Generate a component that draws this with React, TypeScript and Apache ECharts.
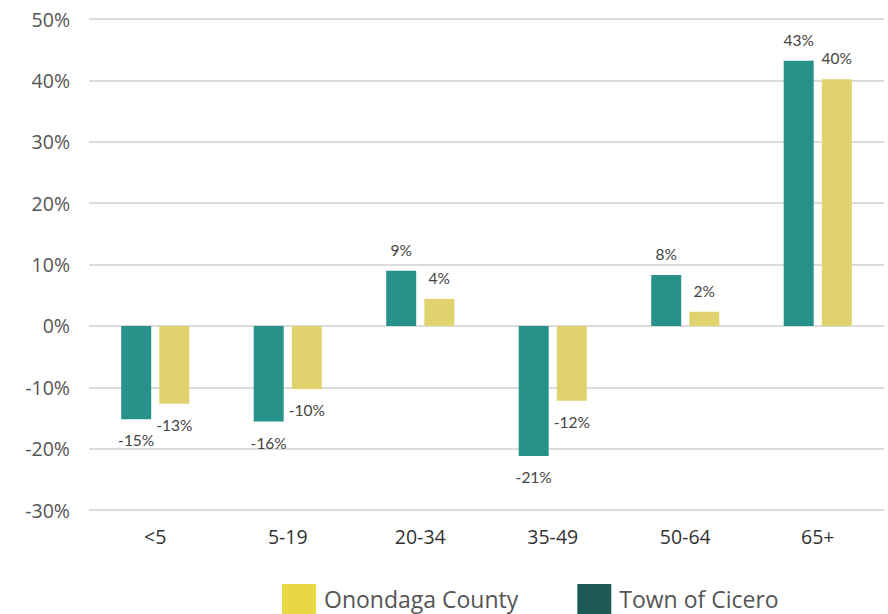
import React, { useEffect, useRef } from "react";
import * as echarts from "echarts";

const categories = ["<5", "5-19", "20-34", "35-49", "50-64", "65+"];
const cicero = [-15.2, -15.6, 9.0, -21.2, 8.3, 43.2];
const onondaga = [-12.7, -10.3, 4.4, -12.2, 2.3, 40.2];
const yTicks = [-30, -20, -10, 0, 10, 20, 30, 40, 50];

const labelFmt = (p: any) => `${Math.round(p.value)}%`;

function mk(values: number[]) {
  return values.map((v) => ({
    value: v,
    label: { position: v < 0 ? "bottom" : "top" },
  }));
}

export default function App() {
  const ref = useRef<HTMLDivElement>(null);
  useEffect(() => {
    const chart = echarts.init(ref.current!, null, { renderer: "svg" });
    const barLabel = {
      show: true,
      distance: 13,
      formatter: labelFmt,
      fontFamily: "Lato",
      fontSize: 15.5,
      color: "#444",
    };
    chart.setOption({
      animation: false,
      grid: { left: 89, right: 4, top: 19, bottom: 104 },
      legend: {
        top: 579,
        left: 277,
        itemWidth: 34,
        itemHeight: 30,
        itemGap: 59,
        icon: "rect",
        textStyle: {
          fontFamily: "Open Sans",
          fontSize: 23,
          lineHeight: 25,
          color: "#555",
          padding: [0, 0, 0, 3],
        },
        data: [
          { name: "Onondaga County", itemStyle: { color: "#e8d844" } },
          { name: "Town of Cicero", itemStyle: { color: "#1e5a55" } },
        ],
      },
      xAxis: {
        type: "category",
        data: categories,
        axisLine: { show: false },
        axisTick: { show: false },
        axisLabel: { margin: 16, fontFamily: "Open Sans", fontSize: 19.5, color: "#333" },
      },
      yAxis: {
        type: "value",
        min: -30,
        max: 50,
        interval: 10,
        axisLabel: {
          margin: 19,
          fontFamily: "Open Sans",
          fontSize: 19.5,
          color: "#555",
          formatter: (v: number) => (yTicks.includes(v) ? `${v}%` : ""),
        },
        splitLine: { lineStyle: { color: "#dcdcdc", width: 2 } },
      },
      series: [
        {
          name: "Town of Cicero",
          type: "bar",
          data: mk(cicero),
          barWidth: 30,
          barGap: "27%",
          itemStyle: { color: "#27918a" },
          label: barLabel,
        },
        {
          name: "Onondaga County",
          type: "bar",
          data: mk(onondaga),
          barWidth: 30,
          itemStyle: { color: "#e0d36e" },
          label: barLabel,
        },
      ],
    });
    return () => chart.dispose();
  }, []);
  return <div ref={ref} style={{ width: 888, height: 614, position: "absolute", left: 0, top: 0 }} />;
}
